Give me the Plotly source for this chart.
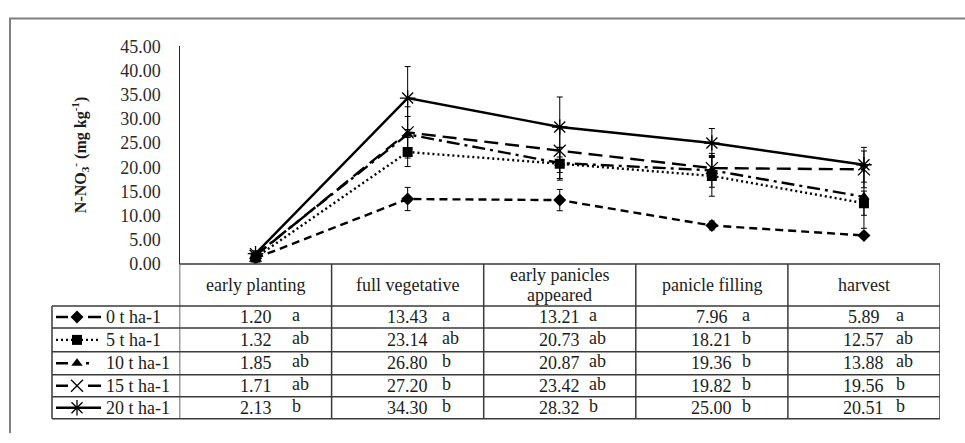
import plotly.graph_objects as go

# ---------------------------------------------------------------- data
stages = ["early planting", "full vegetative", "early panicles appeared",
          "panicle filling", "harvest"]
treatments = ["0 t ha-1", "5 t ha-1", "10 t ha-1", "15 t ha-1", "20 t ha-1"]

no3_0t = [1.20, 13.43, 13.21, 7.96, 5.89]
no3_5t = [1.32, 23.14, 20.73, 18.21, 12.57]
no3_10t = [1.85, 26.80, 20.87, 19.36, 13.88]
no3_15t = [1.71, 27.20, 23.42, 19.82, 19.56]
no3_20t = [2.13, 34.30, 28.32, 25.00, 20.51]

sd_0t = [0.3, 2.4, 2.2, 0.9, 0.5]
sd_5t = [0.5, 3.0, 3.4, 4.2, 2.5]
sd_10t = [0.4, 3.7, 3.2, 3.5, 6.5]
sd_15t = [0.4, 5.3, 4.5, 2.4, 3.8]
sd_20t = [0.6, 6.5, 6.2, 3.0, 3.6]

letters_0t = ["a", "a", "a", "a", "a"]
letters_5t = ["ab", "ab", "ab", "b", "ab"]
letters_10t = ["ab", "b", "ab", "b", "ab"]
letters_15t = ["ab", "b", "ab", "b", "b"]
letters_20t = ["b", "b", "b", "b", "b"]

y_ticks = [0, 5, 10, 15, 20, 25, 30, 35, 40, 45]

# ---------------------------------------------------------------- layout constants
W, H = 965, 443
FONT = "Liberation Serif"
INK = "#1c1c1c"
GRID_INK = "#3a3a3a"

# positions below are figure pixels (origin top-left)
PLOT_L, PLOT_R, PLOT_T, PLOT_B = 179.5, 940, 38, 266
HEADER_B = 310
HEADER_LINE_GAP = 20
ROW_LINES = [310, 333, 358, 382, 405, 428]
LEGEND_L = 52
LETTER_SHIFT = [34, 32, 27, 28, 30]

series = [
    dict(name=treatments[0], y=no3_0t, sd=sd_0t, letters=letters_0t,
         dash="8px,5px", key_dash="12px,20px,13px", key_end=101,
         symbol="diamond", size=10, mline=0),
    dict(name=treatments[1], y=no3_5t, sd=sd_5t, letters=letters_5t,
         dash="2px,3px", key_dash="2px,3px", key_end=101,
         symbol="square", size=10, mline=0),
    dict(name=treatments[2], y=no3_10t, sd=sd_10t, letters=letters_10t,
         dash="13px,5px,3px,5px", key_dash="12px,18px,3px", key_end=89,
         symbol="triangle-up", size=10, mline=0),
    dict(name=treatments[3], y=no3_15t, sd=sd_15t, letters=letters_15t,
         dash="14px,7px", key_dash="12px,20px,13px", key_end=101,
         symbol="x-thin-open", size=12, mline=1.3),
    dict(name=treatments[4], y=no3_20t, sd=sd_20t, letters=letters_20t,
         dash="solid", key_dash="solid", key_end=101,
         symbol="asterisk-open", size=13, mline=1.3),
]

fig = go.Figure()

# ---------------------------------------------------------------- lines with error bars
for s in series:
    fig.add_trace(go.Scatter(
        x=stages, y=s["y"], mode="lines+markers", name=s["name"],
        xaxis="x", yaxis="y", showlegend=False,
        line=dict(color="black", width=2.4, dash=s["dash"]),
        marker=dict(symbol=s["symbol"], size=s["size"], color="black",
                    line=dict(color="#222", width=s["mline"])),
        error_y=dict(type="data", array=s["sd"], visible=True,
                     color="black", thickness=1, width=3),
    ))

# ---------------------------------------------------------------- legend keys in the table
row_centers = [(ROW_LINES[i] + ROW_LINES[i + 1]) / 2 for i in range(5)]
for s, yc in zip(series, row_centers):
    fig.add_trace(go.Scatter(
        x=[56, s["key_end"]], y=[yc, yc], mode="lines", xaxis="x2", yaxis="y2",
        showlegend=False, hoverinfo="skip",
        line=dict(color="black", width=2.4, dash=s["key_dash"]),
    ))
    fig.add_trace(go.Scatter(
        x=[77], y=[yc], mode="markers", xaxis="x2", yaxis="y2",
        showlegend=False, hoverinfo="skip",
        marker=dict(symbol=s["symbol"], size=s["size"], color="black",
                    line=dict(color="#222", width=s["mline"])),
    ))

shapes = []
line_style = dict(color=GRID_INK, width=1.5)

# outer frame
shapes.append(dict(type="rect", xref="x2", yref="y2", x0=10, x1=W + 20, y0=9, y1=H + 20,
                   line=dict(color="#808080", width=2), layer="below"))

# table horizontals
shapes.append(dict(type="line", xref="x", yref="y2", x0=-0.5, x1=4.5,
                   y0=PLOT_B, y1=PLOT_B, line=line_style))
for yl in ROW_LINES:
    shapes.append(dict(type="line", xref="x2", yref="y2", x0=LEGEND_L, x1=PLOT_R,
                       y0=yl, y1=yl, line=line_style))
# table verticals: column boundaries sit halfway between categories
for i in range(len(stages) + 1):
    shapes.append(dict(type="line", xref="x", yref="y2", x0=i - 0.5, x1=i - 0.5,
                       y0=PLOT_B, y1=ROW_LINES[-1], line=line_style))
shapes.append(dict(type="line", xref="x2", yref="y2", x0=LEGEND_L, x1=LEGEND_L,
                   y0=ROW_LINES[0], y1=ROW_LINES[-1], line=line_style))

annotations = []
# column headers (long ones wrap onto two lines)
header_mid = (PLOT_B + HEADER_B) / 2
for i, st in enumerate(stages):
    parts = [st] if st != "early panicles appeared" else ["early panicles", "appeared"]
    first = header_mid - HEADER_LINE_GAP * (len(parts) - 1) / 2
    for k, part in enumerate(parts):
        annotations.append(dict(
            x=i, y=first + k * HEADER_LINE_GAP, xref="x", yref="y2", text=part,
            showarrow=False, xanchor="center", yanchor="middle",
            font=dict(family=FONT, size=18, color=INK),
        ))
# table body: value centred in column, significance letter to its right
for s, yc in zip(series, row_centers):
    annotations.append(dict(
        x=104, y=yc, xref="x2", yref="y2", text=s["name"], showarrow=False,
        xanchor="left", yanchor="middle", font=dict(family=FONT, size=18, color=INK),
    ))
    for i, (v, let) in enumerate(zip(s["y"], s["letters"])):
        annotations.append(dict(
            x=i, y=yc, xref="x", yref="y2", text=f"{v:.2f}", showarrow=False,
            xanchor="center", yanchor="middle",
            font=dict(family=FONT, size=18, color=INK),
        ))
        annotations.append(dict(
            x=i, y=yc - 2, xref="x", yref="y2", text=let, showarrow=False,
            xanchor="left", yanchor="middle", xshift=LETTER_SHIFT[i],
            font=dict(family=FONT, size=18, color=INK),
        ))

# y axis title
annotations.append(dict(
    x=80, y=(PLOT_T + PLOT_B) / 2, xref="x2", yref="y2", textangle=-90,
    text="<b>N-NO<sub>3</sub><sup>-</sup> (mg kg<sup>-1</sup>)</b>",
    showarrow=False, xanchor="center", yanchor="middle",
    font=dict(family=FONT, size=16, color=INK),
))

fig.update_layout(
    width=W, height=H,
    margin=dict(l=0, r=0, t=0, b=0),
    paper_bgcolor="white", plot_bgcolor="rgba(0,0,0,0)",
    showlegend=False,
    xaxis=dict(domain=[PLOT_L / W, PLOT_R / W], type="category",
               categoryorder="array", categoryarray=stages, range=[-0.5, 4.5],
               showticklabels=False, showgrid=False, zeroline=False,
               showline=False, ticks="", anchor="y"),
    yaxis=dict(domain=[1 - PLOT_B / H, 1 - PLOT_T / H], range=[0, 45],
               tickvals=y_ticks, ticktext=[f"{v:.2f}" for v in y_ticks],
               tickfont=dict(family=FONT, size=18, color="#2a2a2a"),
               showgrid=False, zeroline=False, showline=True,
               linecolor="#262626", linewidth=1.2, ticks="",
               ticklabelstandoff=14, anchor="x"),
    xaxis2=dict(domain=[0, 1], range=[0, W], visible=False, anchor="y2",
                fixedrange=True),
    yaxis2=dict(domain=[0, 1], range=[H, 0], visible=False, anchor="x2",
                fixedrange=True),
    shapes=shapes,
    annotations=annotations,
)

fig.write_html("out.html")
